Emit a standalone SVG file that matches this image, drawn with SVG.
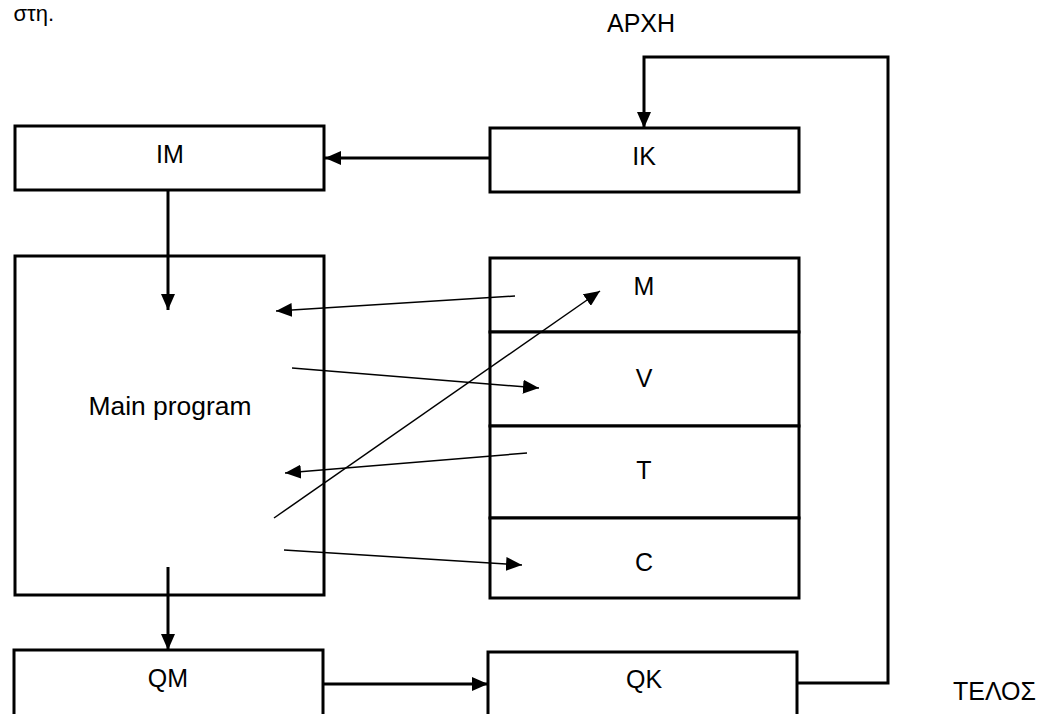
<svg xmlns="http://www.w3.org/2000/svg" width="1049" height="714" viewBox="0 0 1049 714">
<style>
  .box { fill: #ffffff; stroke: #000000; stroke-width: 3; }
  .lbl { font-family: "Liberation Sans", Arial, sans-serif; font-size: 25px; fill: #000000; text-anchor: middle; }
  .free { font-family: "Liberation Sans", Arial, sans-serif; font-size: 25px; fill: #000000; }
  .thick { fill: none; stroke: #000000; stroke-width: 3; }
  .thin { fill: none; stroke: #000000; stroke-width: 1.5; }
</style>
<defs>
  <marker id="ah" viewBox="0 0 16 14" refX="16" refY="7" markerWidth="16" markerHeight="14" markerUnits="userSpaceOnUse" orient="auto">
    <path d="M0,0 L16,7 L0,14 z" fill="#000000"/>
  </marker>
</defs>
<rect width="1049" height="714" fill="#ffffff"/>
<text class="free" x="54" y="21" text-anchor="end" style="font-size:22px">στη.</text>
<text class="free" x="607" y="32">ΑΡΧΗ</text>
<text class="free" x="953" y="700">ΤΕΛΟΣ</text>

<g id="IM"><rect class="box" x="15" y="126" width="309" height="64"/><text class="lbl" x="170" y="163">IM</text></g>
<g id="IK"><rect class="box" x="490" y="128" width="309" height="64"/><text class="lbl" x="644" y="165">IK</text></g>
<g id="Main"><rect class="box" x="15" y="256" width="309" height="339"/><text class="lbl" x="170" y="415" textLength="163" lengthAdjust="spacingAndGlyphs">Main program</text></g>
<g id="M"><rect class="box" x="490" y="258" width="309" height="74"/><text class="lbl" x="644" y="295">M</text></g>
<g id="V"><rect class="box" x="490" y="332" width="309" height="94"/><text class="lbl" x="644" y="387">V</text></g>
<g id="T"><rect class="box" x="490" y="426" width="309" height="92"/><text class="lbl" x="644" y="479">T</text></g>
<g id="C"><rect class="box" x="490" y="518" width="309" height="80"/><text class="lbl" x="644" y="571">C</text></g>
<g id="QM"><rect class="box" x="14" y="650" width="309" height="80"/><text class="lbl" x="168" y="687">QM</text></g>
<g id="QK"><rect class="box" x="488" y="652" width="309" height="80"/><text class="lbl" x="644" y="688">QK</text></g>

<g id="connectors">
  <line class="thick" x1="490" y1="158" x2="325" y2="158" marker-end="url(#ah)"/>
  <polyline class="thick" points="797,683 888,683 888,57 644,57 644,128" marker-end="url(#ah)"/>
  <line class="thick" x1="168" y1="190" x2="168" y2="310" marker-end="url(#ah)"/>
  <line class="thick" x1="168" y1="567" x2="168" y2="650" marker-end="url(#ah)"/>
  <line class="thick" x1="323" y1="684" x2="488" y2="684" marker-end="url(#ah)"/>
  <line class="thin" x1="515" y1="296" x2="276" y2="311" marker-end="url(#ah)"/>
  <line class="thin" x1="292" y1="368" x2="539" y2="388" marker-end="url(#ah)"/>
  <line class="thin" x1="527" y1="453" x2="285" y2="473" marker-end="url(#ah)"/>
  <line class="thin" x1="274" y1="518" x2="600" y2="291" marker-end="url(#ah)"/>
  <line class="thin" x1="284" y1="550" x2="522" y2="565" marker-end="url(#ah)"/>
</g>
</svg>
